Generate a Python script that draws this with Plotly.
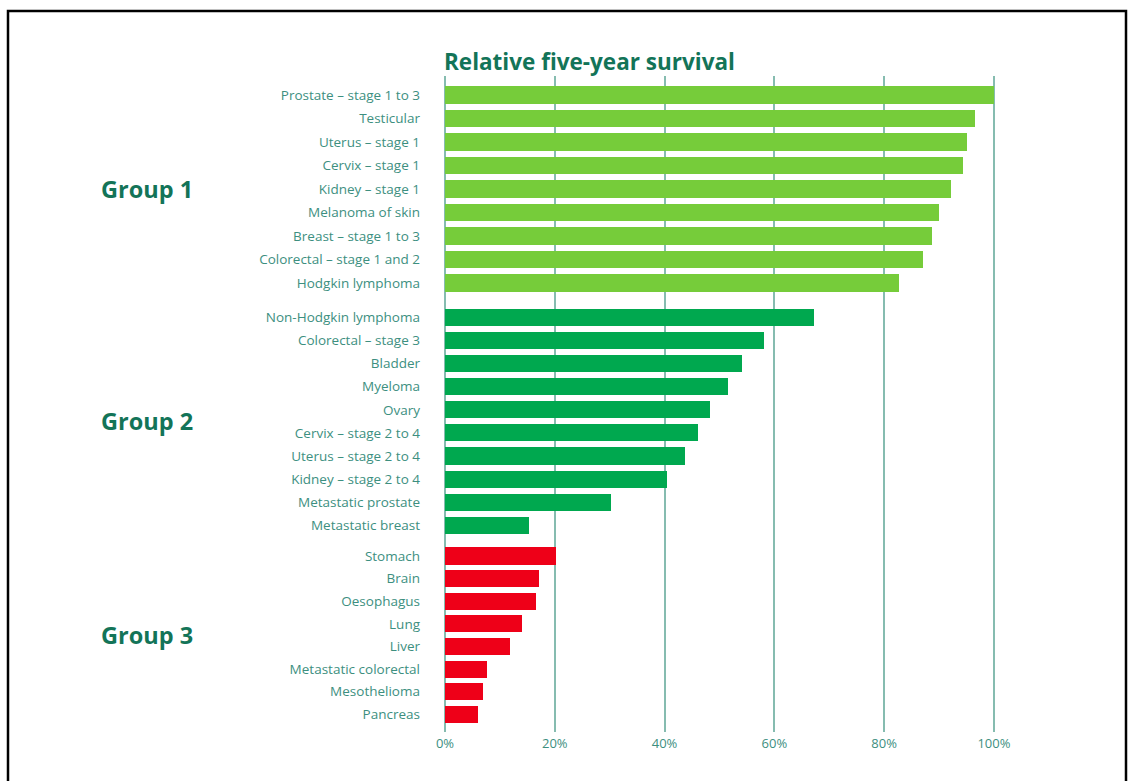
import plotly.graph_objects as go

# Relative five-year survival (%) by cancer type, in three groups
group1_labels = ["Prostate – stage 1 to 3", "Testicular", "Uterus – stage 1", "Cervix – stage 1",
                 "Kidney – stage 1", "Melanoma of skin", "Breast – stage 1 to 3",
                 "Colorectal – stage 1 and 2", "Hodgkin lymphoma"]
group1_values = [100, 96.5, 95.1, 94.4, 92.1, 90.0, 88.7, 87.0, 82.7]

group2_labels = ["Non-Hodgkin lymphoma", "Colorectal – stage 3", "Bladder", "Myeloma", "Ovary",
                 "Cervix – stage 2 to 4", "Uterus – stage 2 to 4", "Kidney – stage 2 to 4",
                 "Metastatic prostate", "Metastatic breast"]
group2_values = [67.2, 58.1, 54.1, 51.6, 48.2, 46.0, 43.7, 40.4, 30.2, 15.3]

group3_labels = ["Stomach", "Brain", "Oesophagus", "Lung", "Liver", "Metastatic colorectal",
                 "Mesothelioma", "Pancreas"]
group3_values = [20.3, 17.2, 16.6, 14.1, 11.9, 7.6, 6.9, 6.0]

group_names = ["Group 1", "Group 2", "Group 3"]
group_colors = ["#76cc3a", "#00a84f", "#ee0018"]
x_ticks = [0, 20, 40, 60, 80, 100]
x_tick_text = ["0%", "20%", "40%", "60%", "80%", "100%"]

groups = [(group1_labels, group1_values), (group2_labels, group2_values),
          (group3_labels, group3_values)]
# row layout: distance from previous group's last row, and row pitch inside each group
group_offsets = [0.0, 1.46, 1.306]
group_pitch = [1.0, 0.983, 0.962]

TEXT = "#3d8f7f"
DARK = "#137458"
GRID = "#86bcb0"

fig = go.Figure()
all_pos, all_labels, centres = [], [], []
cursor = 0.0
for (labels, values), off, pitch, color in zip(groups, group_offsets, group_pitch, group_colors):
    start = cursor + off if all_pos else 0.0
    pos = [start + i * pitch for i in range(len(labels))]
    cursor = pos[-1]
    centres.append(sum(pos) / len(pos))
    all_pos += pos
    all_labels += labels
    fig.add_trace(go.Bar(
        x=values, y=pos, orientation="h", width=0.73,
        marker=dict(color=color, line=dict(width=0)),
        hovertemplate="%{text}: %{x:.1f}%<extra></extra>", text=labels,
        textposition="none", showlegend=False,
    ))

fig.update_yaxes(
    range=[27.1, -0.81], tickvals=all_pos, ticktext=all_labels,
    showgrid=False, zeroline=False, ticks="", ticklabelstandoff=24,
    tickfont=dict(family="Open Sans", size=13.5, color=TEXT),
)
fig.update_xaxes(
    range=[0, 100.2], tickvals=x_ticks, ticktext=x_tick_text,
    showgrid=True, gridcolor=GRID, gridwidth=1.5,
    zeroline=True, zerolinecolor=GRID, zerolinewidth=1.5,
    ticks="", ticklabelstandoff=2,
    tickfont=dict(family="Open Sans", size=13, color=TEXT),
)

for name, c in zip(group_names, centres):
    fig.add_annotation(
        x=(99 - 445) / 550, y=c, xref="paper", yref="y", text=f"<b>{name}</b>",
        showarrow=False, xanchor="left", yanchor="middle",
        font=dict(family="Open Sans", size=23.5, color=DARK),
    )

fig.add_annotation(
    x=0, y=1.0, xref="paper", yref="paper", yshift=15,
    text="<b>Relative five-year survival</b>", showarrow=False,
    xanchor="left", yanchor="middle", xshift=-3,
    font=dict(family="Open Sans", size=22.5, color=DARK),
)

# outer frame
fig.add_shape(type="rect", xref="paper", yref="paper",
              x0=(8 - 445) / 550, x1=(1126 - 445) / 550,
              y0=-0.2, y1=(732 - 11) / 656,
              line=dict(color="black", width=2.5), fillcolor="rgba(0,0,0,0)")

fig.update_layout(
    width=1130, height=781,
    margin=dict(l=445, r=135, t=76, b=49),
    paper_bgcolor="white", plot_bgcolor="white",
    bargap=0,
)

fig.write_html("out.html")
